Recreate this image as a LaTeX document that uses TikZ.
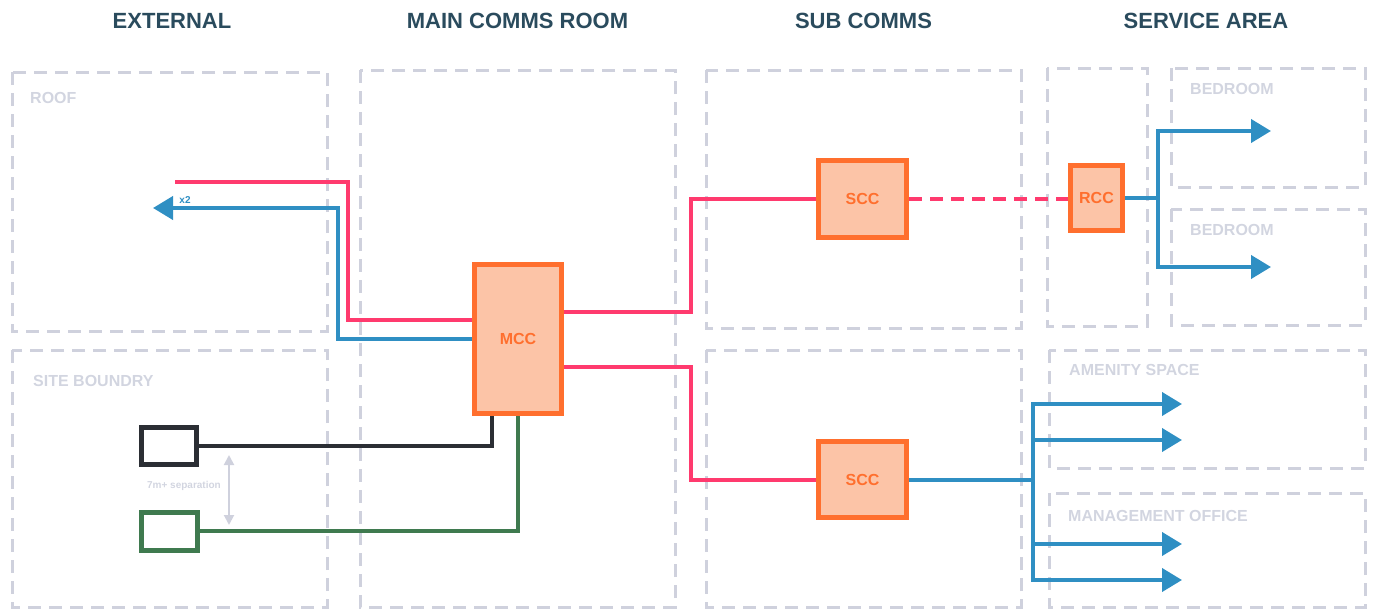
\documentclass[tikz,border=0pt]{standalone}
\usepackage{fontspec}
\setmainfont{Liberation Sans}
\usetikzlibrary{arrows.meta,calc}
\definecolor{headslate}{HTML}{2A4B5D}
\definecolor{zonegrey}{HTML}{CFD1DD}
\definecolor{zonetext}{HTML}{D2D5E0}
\definecolor{cabinetorange}{HTML}{FF6F2E}
\definecolor{cabinetfill}{HTML}{FCC4A7}
\definecolor{fibrepink}{HTML}{FF3A6E}
\definecolor{copperblue}{HTML}{2F8FC3}
\definecolor{intakeblack}{HTML}{2B2E34}
\definecolor{intakegreen}{HTML}{3F7A4F}
\begin{document}
\begin{tikzpicture}[x=1pt,y=-1pt]
  \tikzstyle{zone}=[draw=zonegrey,line width=3pt,dash pattern=on 13pt off 8pt]
  \tikzstyle{zone label}=[text=zonetext,anchor=west,inner sep=0,font=\fontsize{16}{18}\selectfont\bfseries]
  \tikzstyle{heading}=[text=headslate,inner sep=0,font=\fontsize{22}{26}\selectfont\bfseries]
  \tikzstyle{cabinet}=[draw=cabinetorange,fill=cabinetfill,line width=5pt,inner sep=0,text=cabinetorange,font=\fontsize{16}{18}\selectfont\bfseries]
  \tikzstyle{intake}=[draw,fill=white,line width=5pt,inner sep=0]
  \tikzstyle{fibre}=[draw=fibrepink,line width=4pt]
  \tikzstyle{copper}=[draw=copperblue,line width=4pt]
  \tikzstyle{feed}=[-{Triangle[length=20pt,width=23pt]}]
  \useasboundingbox (0,0) rectangle (1375,610);
  % column headings
  \node(h1)[heading] at (172,21) {EXTERNAL};
  \node(h2)[heading] at (517.5,21) {MAIN COMMS ROOM};
  \node(h3)[heading] at (863.5,21) {SUB COMMS};
  \node(h4)[heading] at (1206,21) {SERVICE AREA};
  % zones
  \draw[zone] (12,72) rectangle (327,331);
  \draw[zone] (12,350) rectangle (327,607);
  \draw[zone] (360,70) rectangle (675,607);
  \draw[zone] (706,70) rectangle (1021,328);
  \draw[zone] (706,350) rectangle (1021,607);
  \draw[zone] (1047,68) rectangle (1147,326);
  \draw[zone] (1171,68) rectangle (1365,187);
  \draw[zone] (1171,209) rectangle (1365,325);
  \draw[zone] (1049,350) rectangle (1365,468);
  \draw[zone] (1049,493) rectangle (1365,607);
  \node(roof)[zone label] at (30,97.5) {ROOF};
  \node(site)[zone label] at (33,381) {SITE BOUNDRY};
  \node(bed1)[zone label] at (1190,89) {BEDROOM};
  \node(bed2)[zone label] at (1190,230) {BEDROOM};
  \node(amenity)[zone label] at (1069,370) {AMENITY SPACE};
  \node(office)[zone label] at (1068,515.5) {MANAGEMENT OFFICE};
  % cabinets
  \node(mcc)[cabinet,minimum width=87pt,minimum height=149pt] at (518,339) {MCC};
  \node(scc1)[cabinet,minimum width=88pt,minimum height=77pt] at (862.5,199) {SCC};
  \node(scc2)[cabinet,minimum width=88pt,minimum height=76pt] at (862.5,479.5) {SCC};
  \node(rcc)[cabinet,minimum width=52pt,minimum height=65pt] at (1096.5,198) {RCC};
  % intakes
  \node(duct1)[intake,draw=intakeblack,minimum width=55pt,minimum height=37pt] at (169,446) {};
  \node(duct2)[intake,draw=intakegreen,minimum width=56pt,minimum height=38pt] at (169.5,531) {};
  % roof
  \coordinate (roofpink) at (175,182);
  \coordinate (roofblue) at (153,208);
  \draw[fibre] (roofpink) -| ($(mcc.west)+(-124,-19)$) -- ($(mcc.west)+(0,-19)$);
  \draw[copper,feed] (mcc.west) -| ($(mcc.west)+(-134,-131)$) -- (roofblue);
  \node(x2)[text=copperblue,inner sep=0,font=\fontsize{10}{12}\selectfont\bfseries] at (185,200) {x2};
  % site boundary
  \draw[draw=intakeblack,line width=4pt] (duct1.east) -| ($(mcc.south)+(-26,0)$);
  \draw[draw=intakegreen,line width=4pt] (duct2.east) -| (mcc.south);
  \coordinate (septop) at (229,455);
  \coordinate (sepbot) at (229,525);
  \draw[draw=zonegrey,line width=2pt,{Triangle[length=10pt,width=10pt]}-{Triangle[length=10pt,width=10pt]}] (septop) -- (sepbot);
  \node(sep)[text=zonetext,inner sep=0,font=\fontsize{10}{12}\selectfont\bfseries] at (184,486) {7m+ separation};
  % sub comms
  \draw[fibre] ($(mcc.east)+(0,-27)$) -| ($(scc1.west)+(-125,0)$) -- (scc1.west);
  \draw[fibre] ($(mcc.east)+(0,28)$) -| ($(scc2.west)+(-125,0)$) -- (scc2.west);
  \draw[fibre,dash pattern=on 13pt off 8pt] (scc1.east) -- (scc1.east -| rcc.west);
  % service area
  \draw[copper] (rcc.east) -- ++(33,0) coordinate (rccsplit);
  \coordinate (bedout1) at (1271,131);
  \coordinate (bedout2) at (1271,267);
  \draw[copper,feed] (rccsplit) |- (bedout1);
  \draw[copper,feed] (rccsplit) |- (bedout2);
  \draw[copper] (scc2.east) -- (1033,479.5) coordinate (sccsplit);
  \foreach \y [count=\i] in {404,440,544,580} {
    \coordinate (out\i) at (1182,\y);
    \draw[copper,feed] (sccsplit) |- (out\i);
  }
\end{tikzpicture}
\end{document}
